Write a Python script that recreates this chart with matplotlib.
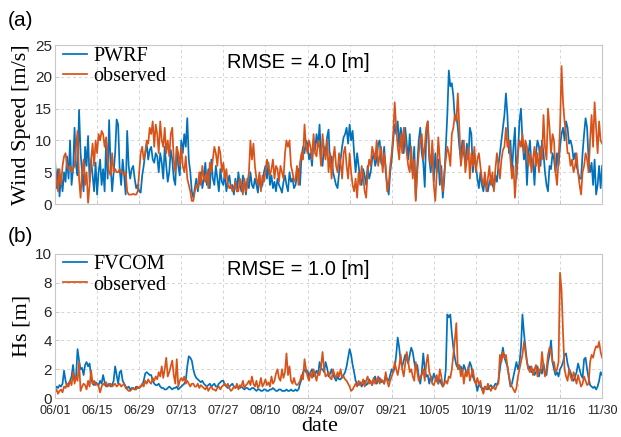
import numpy as np
import pandas as pd
import matplotlib
matplotlib.use("Agg")
import matplotlib.pyplot as plt

# ---- data: two samples per day, 06/01 00:00 .. 11/30 00:00 ----
wind_pwrf = [
    7.0, 2.5, 5.5, 1.2, 4.5, 2.0, 5.0, 3.5, 7.5, 4.0, 10.0, 3.0, 5.5, 12.0, 6.0, 4.5, 14.8, 8.0, 5.0, 2.0, 9.0, 6.0, 10.7, 3.5, 7.0, 4.5, 2.0, 6.5,
    1.5, 5.0, 7.0, 3.0, 5.5, 2.0, 10.0, 4.0, 13.2, 6.0, 2.0, 5.0, 8.0, 13.3, 12.5, 5.5, 3.0, 7.0, 4.5, 1.5, 11.5, 6.0, 4.0, 5.5, 6.0, 4.0, 2.5, 3.0,
    2.0, 1.8, 4.5, 6.0, 8.0, 9.5, 7.0, 8.5, 9.0, 7.0, 6.5, 8.0, 7.5, 5.0, 8.0, 6.5, 4.0, 9.0, 6.0, 3.5, 5.0, 8.5, 7.0, 4.0, 3.0, 9.0, 6.0, 4.5,
    10.0, 8.0, 11.0, 9.0, 13.5, 7.0, 5.0, 2.0, 1.0, 2.5, 4.0, 2.0, 3.5, 5.0, 2.5, 4.0, 6.5, 3.0, 5.5, 2.5, 7.0, 4.0, 3.0, 6.0, 4.0, 2.0, 5.5, 3.5,
    3.0, 5.0, 2.0, 3.5, 4.5, 2.5, 3.0, 1.5, 4.0, 2.0, 5.0, 3.0, 2.0, 4.5, 3.5, 1.5, 4.0, 2.5, 5.0, 3.0, 2.5, 4.0, 3.0, 1.8, 4.5, 2.5, 3.0, 5.0,
    6.0, 4.0, 6.5, 3.0, 4.5, 2.5, 3.5, 2.0, 4.0, 3.0, 2.5, 1.8, 3.5, 4.5, 3.0, 2.0, 5.0, 3.5, 4.0, 2.5, 3.0, 4.5, 5.5, 3.0, 7.5, 9.0, 8.0, 10.0,
    9.5, 7.0, 8.0, 6.0, 10.0, 8.5, 11.0, 9.0, 12.5, 7.5, 6.0, 9.0, 8.0, 10.5, 11.7, 6.0, 7.5, 5.0, 4.0, 3.0, 2.5, 5.0, 7.0, 9.0, 10.5, 11.0, 12.0, 9.5,
    12.5, 10.0, 11.5, 8.0, 5.0, 8.0, 6.0, 4.0, 3.0, 5.5, 4.5, 3.0, 6.0, 4.0, 5.0, 7.0, 8.0, 6.0, 7.0, 9.5, 10.0, 6.5, 6.0, 9.0, 5.0, 3.0, 1.5, 5.0,
    7.0, 10.0, 12.5, 11.0, 13.0, 9.0, 12.0, 10.5, 8.0, 12.0, 9.5, 7.0, 11.0, 6.0, 5.0, 9.0, 0.8, 6.0, 10.0, 12.0, 8.0, 6.5, 2.7, 11.0, 13.0, 7.0, 5.0, 9.0,
    3.5, 8.0, 5.0, 7.0, 3.0, 6.0, 1.0, 4.0, 9.0, 14.0, 21.0, 18.5, 19.0, 17.0, 13.5, 14.0, 12.0, 9.0, 7.0, 10.0, 8.0, 6.5, 9.5, 7.0, 12.0, 11.0, 5.0, 8.0,
    6.0, 4.0, 2.5, 5.0, 3.0, 2.0, 4.0, 2.7, 2.0, 3.5, 4.0, 3.0, 2.5, 4.5, 3.5, 6.0, 8.0, 10.0, 12.0, 14.0, 17.4, 14.0, 8.0, 10.0, 5.0, 9.0, 12.0, 4.0,
    8.0, 13.0, 15.0, 10.0, 7.0, 9.0, 3.0, 8.0, 10.0, 6.0, 7.0, 3.0, 8.0, 10.0, 9.0, 6.0, 10.0, 8.0, 5.0, 3.0, 2.0, 6.0, 5.5, 8.0, 7.0, 5.0, 8.0, 6.0,
    9.0, 11.0, 12.0, 10.0, 13.0, 12.0, 9.5, 10.0, 9.0, 7.0, 8.0, 6.0, 5.0, 4.0, 4.0, 8.0, 11.0, 13.5, 12.0, 7.0, 5.0, 6.5, 3.0, 7.0, 1.5, 3.0, 6.0, 2.5,
    6.0,
]

wind_obs = [
    6.0, 4.0, 2.0, 5.5, 3.0, 6.0, 7.5, 8.0, 6.0, 5.5, 6.0, 5.0, 5.5, 6.0, 9.0, 11.5, 4.0, 1.0, 5.0, 7.0, 3.0, 5.0, 0.2, 3.0, 7.0, 9.5, 6.0, 10.0,
    8.0, 11.0, 10.0, 11.5, 11.0, 9.0, 10.5, 7.0, 5.0, 4.5, 8.0, 5.0, 5.5, 5.0, 5.0, 5.5, 5.0, 5.0, 4.5, 5.0, 2.0, 1.5, 1.5, 1.5, 1.6, 1.5, 1.5, 2.0,
    5.0, 8.0, 9.0, 7.0, 8.0, 10.0, 9.5, 12.0, 11.0, 13.0, 9.0, 12.5, 11.0, 8.0, 13.0, 10.0, 9.0, 12.0, 8.0, 10.0, 7.5, 11.0, 12.0, 7.0, 5.0, 9.0, 8.0, 6.0,
    9.0, 6.0, 5.0, 7.5, 4.0, 3.0, 2.0, 0.5, 0.5, 2.0, 3.0, 2.5, 5.0, 3.0, 6.0, 4.0, 3.5, 5.0, 2.5, 6.5, 5.0, 7.0, 9.0, 8.0, 6.0, 9.0, 8.0, 5.0,
    6.5, 4.0, 5.5, 3.0, 2.5, 3.0, 2.0, 2.5, 3.5, 2.0, 2.0, 4.0, 3.0, 1.5, 4.0, 2.0, 3.0, 5.0, 10.0, 7.0, 9.5, 6.0, 4.0, 3.0, 5.0, 2.0, 4.5, 3.5,
    5.0, 7.0, 6.0, 4.5, 5.5, 7.0, 4.0, 6.0, 5.5, 3.5, 6.0, 5.0, 4.0, 8.0, 10.0, 9.0, 10.0, 6.0, 5.0, 3.5, 4.0, 6.0, 3.0, 6.5, 8.0, 7.0, 12.5, 9.0,
    8.0, 10.0, 9.0, 7.0, 11.0, 8.0, 7.5, 10.0, 9.0, 6.0, 11.0, 8.5, 7.0, 10.0, 5.0, 8.0, 4.0, 7.0, 9.0, 6.0, 5.0, 8.0, 6.5, 4.0, 8.0, 9.0, 6.0, 4.0,
    8.0, 5.0, 3.0, 2.0, 4.0, 1.0, 5.0, 3.0, 6.0, 4.5, 2.0, 1.0, 5.0, 7.0, 6.0, 9.0, 8.0, 7.0, 10.0, 6.0, 7.5, 9.0, 5.0, 8.0, 6.0, 2.0, 3.0, 6.0,
    8.0, 11.0, 16.0, 12.0, 9.0, 7.0, 11.0, 8.0, 12.0, 10.0, 8.0, 6.0, 5.0, 9.0, 4.0, 7.0, 0.5, 5.0, 8.0, 10.0, 11.0, 7.0, 9.0, 12.0, 13.0, 8.0, 6.0, 10.0,
    3.0, 0.5, 5.0, 10.5, 7.0, 4.0, 2.0, 5.0, 7.0, 9.0, 8.0, 6.0, 11.0, 12.0, 14.0, 13.0, 17.4, 12.0, 6.0, 8.0, 10.0, 5.0, 7.0, 9.0, 4.0, 8.0, 6.0, 9.0,
    5.0, 7.0, 8.0, 6.0, 4.0, 3.0, 5.0, 2.0, 4.0, 6.0, 3.0, 5.0, 2.0, 5.5, 8.0, 6.0, 4.0, 7.0, 8.5, 9.0, 12.0, 9.0, 10.0, 7.0, 4.0, 6.0, 1.0, 5.0,
    8.0, 10.0, 9.0, 11.0, 8.0, 10.0, 9.0, 6.0, 8.0, 5.0, 7.0, 9.0, 6.0, 8.0, 5.0, 9.0, 7.0, 14.0, 9.0, 7.0, 15.0, 12.0, 8.0, 11.0, 10.0, 5.0, 3.0, 7.0,
    12.0, 21.7, 16.0, 13.0, 11.0, 8.0, 8.0, 6.0, 7.0, 5.0, 6.0, 8.0, 5.0, 3.0, 1.5, 5.0, 6.0, 8.0, 7.0, 5.0, 10.0, 14.0, 9.0, 16.0, 12.0, 8.0, 13.0, 10.0,
    9.5,
]

hs_fvcom = [
    0.6, 0.8, 0.7, 0.9, 0.8, 1.0, 1.9, 1.2, 0.8, 1.0, 1.2, 1.5, 2.3, 1.2, 1.5, 3.4, 2.6, 2.0, 2.1, 1.6, 2.3, 2.5, 2.2, 2.4, 1.4, 1.0, 0.9, 1.1,
    1.0, 0.9, 1.2, 1.0, 1.6, 1.1, 0.8, 0.9, 1.0, 0.8, 0.9, 1.2, 2.2, 1.6, 1.0, 1.8, 1.9, 1.2, 1.0, 0.8, 0.7, 0.8, 0.6, 0.7, 0.7, 0.6, 0.8, 0.7,
    0.7, 0.8, 0.9, 1.2, 1.7, 1.8, 1.7, 1.6, 1.6, 1.2, 1.0, 0.9, 0.9, 1.0, 0.8, 0.7, 0.7, 0.6, 0.6, 0.7, 0.8, 0.7, 0.6, 0.7, 0.7, 0.8, 0.6, 0.7,
    0.8, 0.9, 1.0, 1.2, 2.2, 2.9, 2.8, 2.6, 2.0, 1.6, 1.4, 1.3, 1.2, 1.1, 1.2, 1.0, 0.9, 0.8, 0.9, 1.0, 0.8, 0.9, 1.0, 0.8, 0.8, 1.0, 1.1, 1.2,
    1.2, 0.9, 0.8, 0.7, 0.8, 0.9, 1.0, 0.8, 0.7, 0.8, 0.8, 0.7, 0.8, 0.7, 0.6, 0.7, 0.7, 0.6, 0.6, 0.7, 0.7, 0.6, 0.5, 0.6, 0.6, 0.5, 0.5, 0.6,
    0.6, 0.5, 0.5, 0.6, 0.6, 0.7, 0.6, 0.5, 0.5, 0.6, 0.6, 0.5, 0.5, 0.5, 0.6, 0.5, 0.5, 0.6, 0.5, 0.5, 0.6, 0.5, 0.6, 1.0, 1.3, 1.8, 2.0, 1.8,
    1.9, 1.5, 1.8, 2.0, 1.5, 1.7, 1.9, 1.6, 2.5, 2.0, 2.0, 1.8, 2.5, 2.1, 1.5, 1.7, 2.0, 1.6, 1.4, 1.2, 1.5, 1.3, 1.3, 1.5, 1.6, 1.8, 2.2, 2.8,
    3.4, 3.0, 2.3, 1.8, 1.2, 1.0, 0.9, 1.1, 0.8, 1.0, 1.2, 0.9, 1.0, 1.3, 1.1, 0.9, 1.3, 1.5, 1.0, 1.2, 1.4, 1.1, 1.2, 1.0, 1.5, 1.3, 1.2, 1.6,
    2.0, 1.8, 2.1, 3.0, 4.2, 3.5, 2.5, 2.2, 2.6, 3.0, 2.7, 2.4, 3.0, 3.5, 3.2, 2.5, 2.0, 2.3, 1.5, 1.0, 1.8, 3.1, 2.0, 1.5, 1.6, 1.0, 1.5, 1.2,
    1.7, 1.4, 1.2, 1.0, 1.3, 1.0, 0.8, 1.0, 2.0, 5.8, 5.6, 5.8, 4.5, 3.5, 2.8, 2.3, 2.1, 2.0, 2.2, 1.8, 2.3, 2.0, 1.6, 2.0, 2.5, 2.2, 1.5, 1.2,
    1.0, 0.5, 1.0, 0.8, 0.7, 0.6, 0.8, 0.7, 0.6, 0.8, 0.9, 0.7, 0.8, 1.0, 0.9, 1.2, 2.0, 2.8, 3.5, 2.8, 2.5, 2.2, 1.5, 0.8, 1.0, 1.5, 2.0, 2.5,
    2.0, 2.4, 3.5, 5.8, 4.5, 3.5, 2.5, 2.0, 2.2, 1.8, 2.0, 1.6, 1.8, 2.2, 1.5, 2.0, 1.7, 2.4, 1.8, 1.6, 2.5, 3.0, 4.0, 2.5, 2.0, 1.6, 1.8, 1.5,
    2.0, 2.2, 2.5, 3.0, 3.1, 2.4, 2.0, 1.8, 1.4, 1.2, 1.5, 1.8, 2.4, 2.0, 1.6, 1.4, 2.7, 2.8, 2.0, 1.4, 0.9, 0.8, 0.7, 0.8, 0.6, 0.8, 1.2, 1.8,
    1.6,
]

hs_obs = [
    0.4, 0.6, 0.3, 0.5, 0.6, 0.4, 0.8, 0.7, 1.0, 0.8, 1.2, 0.9, 1.8, 1.0, 1.5, 1.2, 2.5, 0.5, 0.8, 1.0, 0.9, 0.6, 1.2, 0.8, 1.9, 1.0, 1.2, 0.9,
    1.0, 0.8, 0.4, 0.8, 1.0, 0.9, 1.1, 0.8, 0.9, 1.0, 0.8, 0.9, 1.0, 0.8, 0.9, 1.0, 0.8, 0.9, 1.0, 0.7, 0.6, 0.5, 0.5, 0.6, 0.7, 0.6, 0.6, 0.8,
    0.7, 0.8, 1.0, 0.8, 1.2, 1.0, 1.3, 1.1, 1.0, 1.4, 1.2, 1.5, 1.3, 1.8, 1.5, 2.2, 1.4, 2.0, 2.8, 1.5, 1.8, 2.2, 2.6, 1.6, 1.0, 2.7, 0.8, 1.2,
    1.4, 1.2, 1.5, 1.0, 1.2, 1.0, 0.8, 1.0, 1.0, 0.8, 0.8, 1.0, 0.7, 0.9, 0.8, 0.7, 0.6, 0.8, 0.5, 0.7, 0.8, 0.6, 0.6, 0.5, 0.7, 0.8, 0.6, 0.8,
    0.9, 1.0, 0.8, 1.0, 0.7, 0.5, 0.6, 0.8, 0.7, 1.0, 0.6, 0.9, 0.8, 1.2, 0.7, 0.9, 1.0, 1.2, 0.9, 1.5, 1.0, 0.8, 1.2, 0.7, 0.9, 1.4, 0.8, 1.0,
    1.3, 0.9, 1.1, 0.8, 1.5, 1.0, 1.2, 1.7, 2.0, 1.4, 1.2, 2.0, 1.4, 1.8, 3.1, 1.6, 2.2, 1.2, 1.0, 1.4, 1.0, 0.9, 1.0, 1.2, 1.6, 1.3, 2.7, 2.0,
    1.5, 1.2, 1.8, 1.4, 2.0, 1.6, 1.2, 1.8, 1.6, 2.2, 3.2, 2.0, 1.5, 1.6, 1.8, 1.4, 1.3, 2.0, 1.6, 1.4, 1.8, 1.5, 2.0, 1.4, 1.5, 1.3, 1.2, 1.0,
    0.8, 0.5, 0.6, 0.8, 1.0, 0.8, 1.2, 0.9, 1.0, 1.3, 0.8, 1.2, 1.5, 1.0, 1.2, 0.9, 1.4, 1.0, 1.2, 1.5, 1.0, 1.3, 1.2, 1.0, 1.8, 1.2, 0.8, 1.2,
    1.5, 1.8, 2.5, 2.0, 1.6, 2.2, 3.0, 2.0, 1.5, 2.4, 3.2, 2.5, 1.8, 2.0, 1.5, 1.2, 2.5, 1.8, 1.2, 1.5, 1.6, 2.0, 1.2, 2.4, 3.0, 1.8, 1.5, 1.0,
    0.9, 1.2, 1.6, 1.0, 2.0, 1.5, 0.8, 1.0, 1.2, 1.0, 1.5, 1.4, 2.0, 3.0, 4.0, 5.2, 2.0, 2.3, 1.5, 2.0, 1.0, 1.8, 1.5, 2.2, 1.2, 1.6, 2.0, 1.3,
    1.0, 1.4, 0.9, 1.2, 0.6, 0.3, 0.8, 0.6, 1.0, 0.7, 0.5, 0.8, 0.7, 0.6, 0.9, 1.0, 3.0, 2.5, 3.2, 2.8, 3.0, 2.2, 1.5, 1.0, 0.8, 0.6, 0.4, 0.7,
    1.5, 2.0, 2.5, 3.0, 3.9, 3.2, 2.5, 2.0, 1.8, 2.2, 1.6, 2.0, 2.3, 1.5, 2.0, 1.8, 3.2, 2.2, 1.5, 2.0, 3.0, 3.5, 3.3, 2.5, 2.5, 1.8, 2.0, 2.5,
    8.7, 7.5, 4.5, 2.0, 1.5, 1.2, 2.0, 1.5, 1.2, 1.8, 1.4, 1.0, 1.6, 1.2, 0.8, 1.0, 1.5, 1.2, 0.9, 1.0, 2.5, 3.0, 2.8, 3.3, 3.6, 3.5, 3.9, 3.2,
    2.8,
]

tick_labels = ["06/01", "06/15", "06/29", "07/13", "07/27", "08/10", "08/24",
               "09/07", "09/21", "10/05", "10/19", "11/02", "11/16", "11/30"]

times = pd.date_range("2019-06-01", periods=len(wind_pwrf), freq="12h")
tick_dates = pd.date_range("2019-06-01", periods=len(tick_labels), freq="14D")

blue = "#0072BD"
orange = "#D95319"
serif = ["Liberation Serif", "DejaVu Serif"]
sans = ["Liberation Sans", "DejaVu Sans"]
plt.rcParams["font.family"] = sans

fig = plt.figure(figsize=(6.21, 4.37), dpi=100)
ax1 = fig.add_axes([0.0886, 0.533, 0.881, 0.364])
ax2 = fig.add_axes([0.0886, 0.089, 0.881, 0.330])


def style(ax, ymax, ystep):
    ax.set_xlim(times[0], times[-1])
    ax.set_ylim(0, ymax)
    ax.set_yticks(np.arange(0, ymax + 0.1, ystep))
    ax.set_xticks(tick_dates)
    ax.grid(True, linestyle=(0, (3, 3)), color="#d4d4d4", linewidth=0.7)
    ax.set_axisbelow(True)
    for s in ax.spines.values():
        s.set_color("#c8c8c8")
        s.set_linewidth(0.8)
    ax.tick_params(direction="in", length=3, width=0.6, color="#c8c8c8",
                   labelcolor="#262626")
    ax.tick_params(axis="y", labelsize=11, pad=2)
    ax.tick_params(axis="x", labelsize=9, pad=5)


# ---- (a) wind speed ----
ax1.plot(times, wind_pwrf, color=blue, linewidth=1.25, label="PWRF")
ax1.plot(times, wind_obs, color=orange, linewidth=1.25, label="observed")
style(ax1, 25, 5)
ax1.set_xticklabels([])
ax1.set_ylabel("Wind Speed [m/s]", family=serif, fontsize=16)
ax1.yaxis.set_label_coords(-0.062, 0.5)
ax1.yaxis.label.set_verticalalignment("center")
ax1.legend(loc="upper left", bbox_to_anchor=(0.015, 0.99), frameon=False,
           prop={"family": serif, "size": 14.5}, handlelength=1.2,
           handletextpad=0.3, labelspacing=0.05, borderaxespad=0, borderpad=0)
ax1.text(0.314, 0.893, "RMSE = 4.0 [m]", transform=ax1.transAxes,
         fontsize=14.5, va="center", ha="left")

# ---- (b) significant wave height ----
ax2.plot(times, hs_fvcom, color=blue, linewidth=1.25, label="FVCOM")
ax2.plot(times, hs_obs, color=orange, linewidth=1.25, label="observed")
style(ax2, 10, 2)
ax2.set_xticklabels(tick_labels)
ax2.set_ylabel("Hs [m]", family=serif, fontsize=16)
ax2.yaxis.set_label_coords(-0.060, 0.5)
ax2.yaxis.label.set_verticalalignment("center")
ax2.set_xlabel("date", family=serif, fontsize=16)
ax2.xaxis.set_label_coords(0.484, -0.198)
ax2.xaxis.label.set_verticalalignment("center")
ax2.legend(loc="upper left", bbox_to_anchor=(0.015, 0.99), frameon=False,
           prop={"family": serif, "size": 14.5}, handlelength=1.2,
           handletextpad=0.3, labelspacing=0.05, borderaxespad=0, borderpad=0)
ax2.text(0.314, 0.889, "RMSE = 1.0 [m]", transform=ax2.transAxes,
         fontsize=14.5, va="center", ha="left")

fig.text(8 / 621, 1 - 21 / 437, "(a)", fontsize=15, va="center", ha="left")
fig.text(8 / 621, 1 - 236 / 437, "(b)", fontsize=15, va="center", ha="left")

fig.savefig("out.png", dpi=100)
